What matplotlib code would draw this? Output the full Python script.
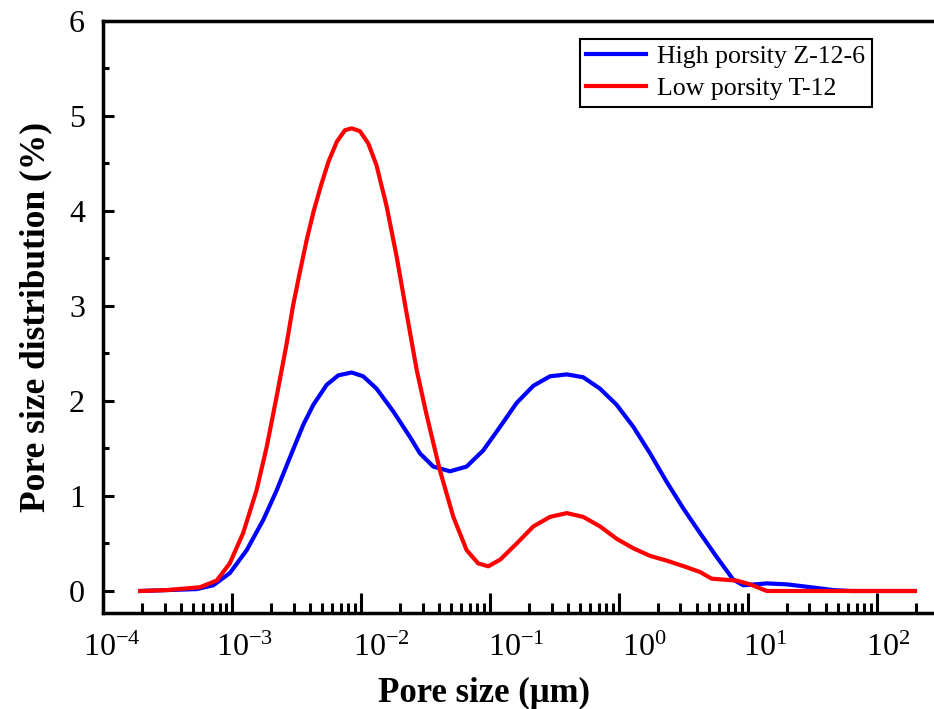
import numpy as np
import matplotlib
matplotlib.use("Agg")
from matplotlib import pyplot as plt
from matplotlib import ticker
from matplotlib.transforms import ScaledTranslation

plt.rcParams['font.family'] = ['Liberation Serif', 'DejaVu Serif']
plt.rcParams['mathtext.fontset'] = 'stix'

# pore size (um) and distribution (%)
high_size = [1.94e-4, 5.32e-4, 7.16e-4, 9.64e-4, 1.30e-3, 1.75e-3, 2.22e-3, 2.82e-3,
             3.57e-3, 4.27e-3, 5.42e-3, 6.67e-3, 8.47e-3, 1.04e-2, 1.32e-2, 1.78e-2,
             2.40e-2, 2.86e-2, 3.63e-2, 4.90e-2, 6.59e-2, 8.87e-2, 0.120, 0.161,
             0.217, 0.292, 0.394, 0.528, 0.713, 0.959, 1.29, 1.74, 2.34, 3.15,
             4.25, 5.71, 7.69, 9.2, 14.0, 20.0, 28.5, 45.7, 63.0, 197.0]
high_dist = [0.0, 0.02, 0.06, 0.19, 0.43, 0.75, 1.06, 1.41,
             1.75, 1.96, 2.17, 2.27, 2.30, 2.26, 2.13, 1.89,
             1.62, 1.45, 1.31, 1.26, 1.31, 1.48, 1.73, 1.98,
             2.16, 2.26, 2.28, 2.25, 2.13, 1.96, 1.73, 1.45, 1.15, 0.87,
             0.61, 0.36, 0.12, 0.06, 0.08, 0.07, 0.045, 0.01, 0.0, 0.0]

low_size = [1.94e-4, 3.16e-4, 5.65e-4, 7.6e-4, 9.6e-4, 1.22e-3, 1.55e-3, 1.86e-3,
            2.22e-3, 2.65e-3, 2.97e-3, 3.35e-3, 3.80e-3, 4.30e-3, 4.90e-3, 5.60e-3,
            6.50e-3, 7.50e-3, 8.47e-3, 9.82e-3, 1.14e-2, 1.32e-2, 1.58e-2, 1.89e-2,
            2.26e-2, 2.70e-2, 3.23e-2, 4.09e-2, 5.20e-2, 6.59e-2, 8.11e-2, 9.70e-2,
            0.120, 0.161, 0.217, 0.292, 0.394, 0.528, 0.713, 0.959, 1.29, 1.74,
            2.34, 3.35, 4.25, 5.22, 6.44, 8.17, 10.4, 14.0, 197.0]
low_dist = [0.0, 0.01, 0.04, 0.11, 0.29, 0.61, 1.06, 1.52,
            2.05, 2.60, 3.00, 3.35, 3.70, 4.00, 4.27, 4.52,
            4.73, 4.85, 4.87, 4.84, 4.71, 4.48, 4.05, 3.52,
            2.92, 2.33, 1.85, 1.27, 0.78, 0.43, 0.29, 0.26,
            0.33, 0.50, 0.68, 0.78, 0.82, 0.78, 0.68, 0.55, 0.45, 0.37,
            0.32, 0.25, 0.20, 0.13, 0.12, 0.11, 0.07, 0.0, 0.0]

series_names = ['High porsity Z-12-6', 'Low porsity T-12']
series_colors = ['#0000ff', '#ff0000']
x_decades = [1e-4, 1e-3, 1e-2, 1e-1, 1e0, 1e1, 1e2]

fig = plt.figure(figsize=(9.34, 7.09), dpi=100)
ax = fig.add_axes([0.1103, 0.1354, 0.8897, 0.835])

ax.plot(high_size, high_dist, color=series_colors[0], lw=3, label=series_names[0])
ax.plot(low_size, low_dist, color=series_colors[1], lw=3, label=series_names[1])

ax.set_xscale('log')
ax.set_xlim(1e-4, 277)
ax.set_ylim(-0.2316, 6)

ax.xaxis.set_major_locator(ticker.FixedLocator(x_decades))
ax.xaxis.set_minor_locator(ticker.LogLocator(base=10, subs=np.arange(2, 10), numticks=20))
ax.xaxis.set_major_formatter(ticker.LogFormatterMathtext())
ax.yaxis.set_major_locator(ticker.MultipleLocator(1))
ax.yaxis.set_minor_locator(ticker.MultipleLocator(0.5))

ax.spines['right'].set_visible(False)
for s in ['left', 'bottom', 'top']:
    ax.spines[s].set_linewidth(2.5)

ax.tick_params(axis='x', which='major', direction='in', length=14.4, width=2.2,
               labelsize=23, pad=15, top=False)
ax.tick_params(axis='x', which='minor', direction='in', length=7.2, width=2.2, top=False)
ax.tick_params(axis='y', which='major', direction='in', length=8, width=2.2,
               labelsize=23, pad=13, right=False)
ax.tick_params(axis='y', which='minor', direction='in', length=4, width=2.2, right=False)

# origin shifted the decade labels a bit to the right
fig.canvas.draw()
shifts = [9, 13, 20, 26, 25, 17, 11]
for lab, dx in zip(ax.get_xticklabels(), shifts):
    lab.set_transform(lab.get_transform() + ScaledTranslation(dx / 100, 0, fig.dpi_scale_trans))

ax.set_xlabel('Pore size (μm)', fontsize=25, fontweight='bold', labelpad=10)
ax.xaxis.label.set_x(0.4585)
ax.set_ylabel('Pore size distribution (%)', fontsize=25.5, fontweight='bold', labelpad=12)

leg = ax.legend(loc='upper right', bbox_to_anchor=(0.925, 0.97), borderaxespad=0,
                fontsize=18.6, fancybox=False, edgecolor='black', framealpha=1,
                handlelength=2.3, handletextpad=0.45, borderpad=0.25, labelspacing=0.35)
leg.get_frame().set_linewidth(1.5)

fig.savefig('out.png', dpi=100)
